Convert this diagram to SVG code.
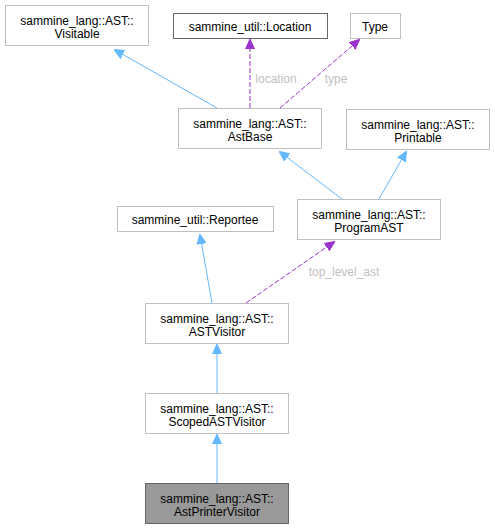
<svg xmlns="http://www.w3.org/2000/svg" width="495" height="529" viewBox="0 0 495 529">
<defs>
<marker id="ab" markerWidth="10" markerHeight="10" refX="9" refY="5" orient="auto" markerUnits="userSpaceOnUse"><path d="M0,0.5 L10,5 L0,9.5 Z" fill="#63b8ff" stroke="#63b8ff"/></marker>
<marker id="ap" markerWidth="10" markerHeight="10" refX="9" refY="5" orient="auto" markerUnits="userSpaceOnUse"><path d="M0,0.5 L10,5 L0,9.5 Z" fill="#9a32cd" stroke="#9a32cd"/></marker>
</defs>
<style>
.n rect{fill:#fff;stroke:#bfbfbf;stroke-width:1}
.n text,.l{font-family:"Liberation Sans",Arial,sans-serif;font-size:12px;text-anchor:middle}
.n text{fill:#000}
.l{fill:#bfbfbf}
.b{stroke:#63b8ff;fill:none;marker-end:url(#ab)}
.p{stroke:#9a32cd;fill:none;stroke-dasharray:5,2;marker-end:url(#ap)}
</style>
<rect width="495" height="529" fill="#fff"/>
<g id="connectors">
<path class="b" d="M217,108 L115,50"/>
<path class="p" d="M250,108 L250,40"/>
<path class="p" d="M280,108 L359,40"/>
<path class="b" d="M342,199 L280,152"/>
<path class="b" d="M379,199 L406,152"/>
<path class="b" d="M212,303 L200,235"/>
<path class="p" d="M246,303 L334,242"/>
<path class="b" d="M217,393 L217,345"/>
<path class="b" d="M217,483 L217,435"/>
<text class="l" x="276" y="83">location</text>
<text class="l" x="336" y="83">type</text>
<text class="l" x="344" y="276">top_level_ast</text>
</g>
<g id="visitable" class="n"><rect x="5.5" y="5.5" width="143" height="40"/><text x="77" y="25">sammine_lang::AST::</text><text x="77" y="38">Visitable</text></g>
<g id="location" class="n"><rect x="173.5" y="13.5" width="154" height="25" style="stroke:#666"/><text x="250" y="31">sammine_util::Location</text></g>
<g id="type" class="n"><rect x="350.5" y="13.5" width="50" height="25"/><text x="375" y="31">Type</text></g>
<g id="astbase" class="n"><rect x="178.5" y="108.5" width="143" height="40"/><text x="250" y="128">sammine_lang::AST::</text><text x="250" y="141">AstBase</text></g>
<g id="printable" class="n"><rect x="346.5" y="109.5" width="143" height="40"/><text x="418" y="129">sammine_lang::AST::</text><text x="418" y="142">Printable</text></g>
<g id="programast" class="n"><rect x="297.5" y="199.5" width="143" height="40"/><text x="369" y="219">sammine_lang::AST::</text><text x="369" y="232">ProgramAST</text></g>
<g id="reportee" class="n"><rect x="117.5" y="206.5" width="156" height="25"/><text x="195" y="224">sammine_util::Reportee</text></g>
<g id="astvisitor" class="n"><rect x="145.5" y="303.5" width="143" height="40"/><text x="217" y="323">sammine_lang::AST::</text><text x="217" y="336">ASTVisitor</text></g>
<g id="scopedastvisitor" class="n"><rect x="145.5" y="393.5" width="143" height="40"/><text x="217" y="413">sammine_lang::AST::</text><text x="217" y="426">ScopedASTVisitor</text></g>
<g id="astprintervisitor" class="n"><rect x="145.5" y="483.5" width="143" height="40" style="fill:#999;stroke:#666"/><text x="217" y="503">sammine_lang::AST::</text><text x="217" y="516">AstPrinterVisitor</text></g>
</svg>
